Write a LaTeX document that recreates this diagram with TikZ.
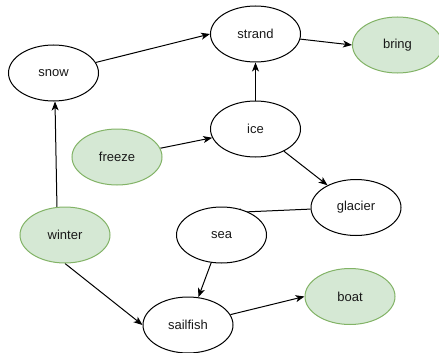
\documentclass[tikz,border=0pt]{standalone}
\usepackage{fontspec}
\setmainfont{Liberation Sans}
\usetikzlibrary{arrows.meta,backgrounds,shapes.geometric}
\definecolor{gfill}{RGB}{213,232,212}
\definecolor{gline}{RGB}{130,179,102}
\begin{document}
\begin{tikzpicture}[x=1pt,y=-1pt,
  el/.style={ellipse,draw=black,fill=white,line width=1pt,minimum width=90pt,minimum height=56pt,inner sep=0pt,font=\fontsize{13}{15}\selectfont,text=black!90},
  gel/.style={el,draw=gline,fill=gfill},
  arr/.style={line width=1pt,-{Stealth[length=9pt,width=7pt,inset=2.5pt]}}]
\useasboundingbox (0,0) rectangle (439,353);
\node[el]  (snow)     at (53.5,73)  {snow};
\node[el]  (strand)   at (255.5,34) {strand};
\node[gel] (bring)    at (397.5,45) {bring};
\node[gel] (freeze)   at (117,157)  {freeze};
\node[el]  (ice)      at (255.5,129){ice};
\node[el]  (glacier)  at (356,207.5){glacier};
\node[el]  (sea)      at (221.5,235){sea};
\node[gel] (winter)   at (65,235)   {winter};
\node[gel] (boat)     at (350,296.5){boat};
\node[el]  (sailfish) at (188,325)  {sailfish};
\coordinate (seatip) at (232,212.5);
\begin{scope}[on background layer]
\draw[arr] (snow) -- (strand.west);
\draw[arr] (strand) -- (bring.west);
\draw[arr] (ice.north) -- (strand.south);
\draw[arr] (freeze) -- (ice);
\draw[arr] (ice) -- (glacier);
\draw[arr] (glacier.182) -- (seatip);
\draw[arr] (winter.106) -- (snow.273);
\draw[arr] (winter.south) -- (sailfish.west);
\draw[arr] (sea) -- (sailfish);
\draw[arr] (sailfish) -- (boat.west);
\end{scope}
\end{tikzpicture}
\end{document}
